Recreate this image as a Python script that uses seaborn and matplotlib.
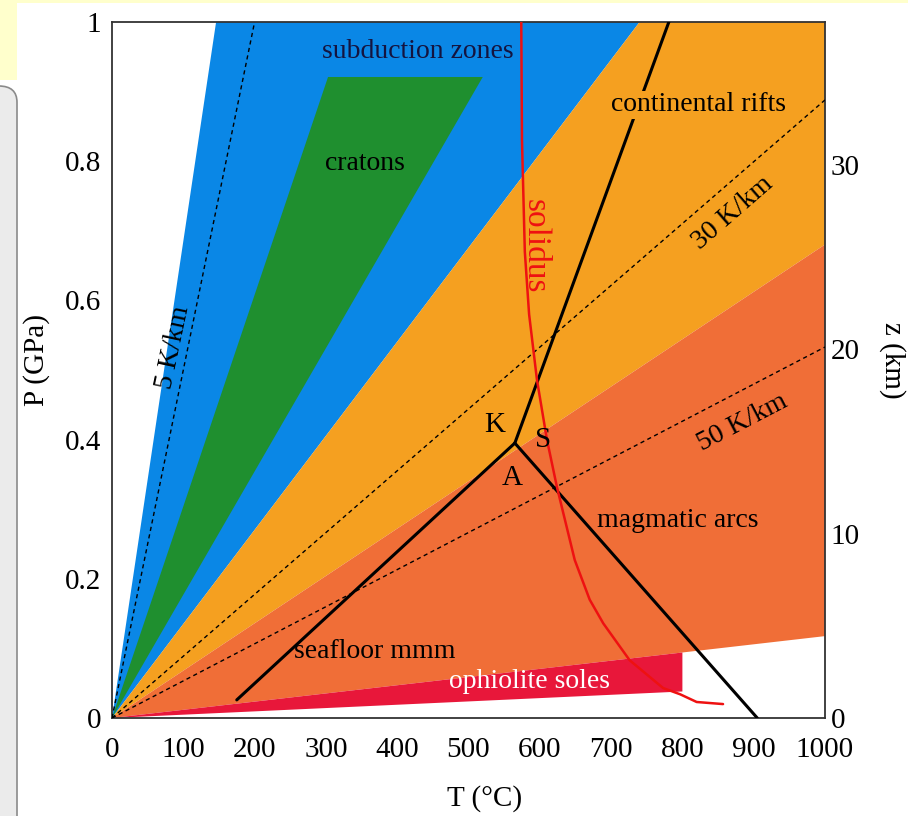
import matplotlib
matplotlib.use("Agg")
import matplotlib.pyplot as plt
import seaborn as sns
from matplotlib.patches import Rectangle, FancyBboxPatch

# fan-shaped fields from the origin: temperature (°C) of each boundary at P = 1 GPa
subduction_bounds = [146, 740]
rift_bounds = [740, 1470]
arc_bounds = [1470, 8500]
sole_bounds = [8500, 21000]
sole_t_max = 800
craton_top_p = 0.921
craton_top_t = [303, 520]

# geotherms (end point of each dashed line)
geotherm_names = ["5 K/km", "30 K/km", "50 K/km"]
geotherm_t = [200, 1000, 1000]
geotherm_p = [1.0, 0.888, 0.533]

# Al2SiO5 reactions (kyanite / andalusite / sillimanite)
ky_and_t = [175, 565]
ky_and_p = [0.026, 0.395]
and_sil_t = [565, 905]
and_sil_p = [0.395, 0.0]
ky_sil_t = [565, 781]
ky_sil_p = [0.395, 1.0]

# wet granite solidus
solidus_t = [574, 575, 579, 585, 596, 610, 624, 649, 670, 689, 726, 773, 797, 820, 857]
solidus_p = [1.0, 0.83, 0.67, 0.58, 0.486, 0.40, 0.332, 0.227, 0.17, 0.136, 0.083, 0.043, 0.034, 0.023, 0.020]

x_ticks = [0, 100, 200, 300, 400, 500, 600, 700, 800, 900, 1000]
y_ticks = [0, 0.2, 0.4, 0.6, 0.8, 1.0]
y_labels = ["0", "0.2", "0.4", "0.6", "0.8", "1"]
z_ticks = [0, 10, 20, 30]
gpa_per_km = 0.0265

blue = "#0A87E6"
green = "#1F8F2F"
orange = "#F5A020"
coral = "#F06E37"
red = "#E8173A"

sns.set_theme(style="white")
plt.rcParams["font.family"] = ["Liberation Serif", "DejaVu Serif"]
plt.rcParams["text.color"] = "black"
plt.rcParams["axes.labelcolor"] = "black"
plt.rcParams["xtick.color"] = "black"
plt.rcParams["ytick.color"] = "black"

fig = plt.figure(figsize=(9.08, 8.16), dpi=100)
ax = fig.add_axes([112 / 908, 1 - 718 / 816, 713 / 908, 696 / 816])
ax.set_xlim(0, 1000)
ax.set_ylim(0, 1)


def wedge(bounds, color):
    far = 3
    ax.fill([0, bounds[0] * far, bounds[1] * far], [0, far, far],
            color=color, lw=0, zorder=1)


wedge(subduction_bounds, blue)
wedge(rift_bounds, orange)
wedge(arc_bounds, coral)
ax.fill([0, craton_top_t[0], craton_top_t[1]], [0, craton_top_p, craton_top_p],
        color=green, lw=0, zorder=2)
ax.fill([0, sole_t_max, sole_t_max],
        [0, sole_t_max / sole_bounds[0], sole_t_max / sole_bounds[1]],
        color=red, lw=0, zorder=2)

for t, p in zip(geotherm_t, geotherm_p):
    sns.lineplot(x=[0, t], y=[0, p], color="black", lw=1.0,
                 linestyle=(0, (3, 2.5)), ax=ax, zorder=3)

for ts, ps in [(ky_and_t, ky_and_p), (and_sil_t, and_sil_p), (ky_sil_t, ky_sil_p)]:
    sns.lineplot(x=ts, y=ps, color="black", lw=2.2, ax=ax, zorder=4,
                 sort=False, estimator=None)

sns.lineplot(x=solidus_t, y=solidus_p, color="#EE1111", lw=1.8, ax=ax,
             zorder=5, sort=False, estimator=None)

# labels inside the plot
fs = 20
ax.text(429, 0.957, "subduction zones", fontsize=fs, color="#141440",
        ha="center", va="center", zorder=6)
ax.text(355, 0.797, "cratons", fontsize=fs, ha="center", va="center", zorder=6)
ax.text(822, 0.881, "continental rifts", fontsize=fs, ha="center", va="center",
        zorder=6, bbox=dict(facecolor=orange, edgecolor="none", pad=1))
ax.text(593, 0.678, "solidus", fontsize=24, color="#EE1111", rotation=-90,
        ha="center", va="center", zorder=6)
ax.text(871, 0.726, geotherm_names[1], fontsize=fs, rotation=41,
        ha="center", va="center", zorder=6)
ax.text(884, 0.424, geotherm_names[2], fontsize=fs, rotation=27.5,
        ha="center", va="center", zorder=6)
ax.text(86, 0.533, geotherm_names[0], fontsize=fs, rotation=78,
        ha="center", va="center", zorder=6)
ax.text(537, 0.421, "K", fontsize=21, ha="center", va="center", zorder=6)
ax.text(604, 0.400, "S", fontsize=21, ha="center", va="center", zorder=6)
ax.text(561, 0.345, "A", fontsize=21, ha="center", va="center", zorder=6)
ax.text(794, 0.284, "magmatic arcs", fontsize=fs, ha="center", va="center", zorder=6)
ax.text(369, 0.095, "seafloor mmm", fontsize=fs, ha="center", va="center", zorder=6)
ax.text(586, 0.052, "ophiolite soles", fontsize=fs, color="white",
        ha="center", va="center", zorder=6)

# axes, ticks and labels
ax.set_xticks(x_ticks)
ax.set_yticks(y_ticks)
ax.set_yticklabels(y_labels)
ax.tick_params(length=0, labelsize=21)
ax.tick_params(axis="x", pad=14)
ax.tick_params(axis="y", pad=8)
for s in ax.spines.values():
    s.set_color("#333333")
    s.set_linewidth(1.3)

ax.set_xlabel("T (°C)", fontsize=21)
ax.xaxis.set_label_coords(0.522, -0.097)
ax.set_ylabel("P (GPa)", fontsize=21)
ax.yaxis.set_label_coords(-0.087, 0.514)

secax = ax.secondary_yaxis("right", functions=(lambda p: p / gpa_per_km,
                                               lambda z: z * gpa_per_km))
secax.set_yticks(z_ticks)
secax.tick_params(length=0, labelsize=21, pad=4)
secax.spines["right"].set_visible(False)
ax.text(1.095, 0.514, "z (km)", transform=ax.transAxes, fontsize=21,
        rotation=270, ha="center", va="center")

# screenshot surround
fig.add_artist(Rectangle((0, 1 - 80 / 816), 17 / 908, 80 / 816,
                         transform=fig.transFigure, color="#FFFFCC", lw=0))
fig.add_artist(Rectangle((0, 1 - 3 / 816), 1, 3 / 816,
                         transform=fig.transFigure, color="#FFFFCC", lw=0))
fig.add_artist(FancyBboxPatch((-40 / 908, -0.05), 57 / 908, 0.05 + (816 - 86) / 816,
                              boxstyle="round,pad=0,rounding_size=0.02",
                              transform=fig.transFigure, facecolor="#EBEBEB",
                              edgecolor="#8A8A8A", lw=1.2))

fig.savefig("out.png", dpi=100)
